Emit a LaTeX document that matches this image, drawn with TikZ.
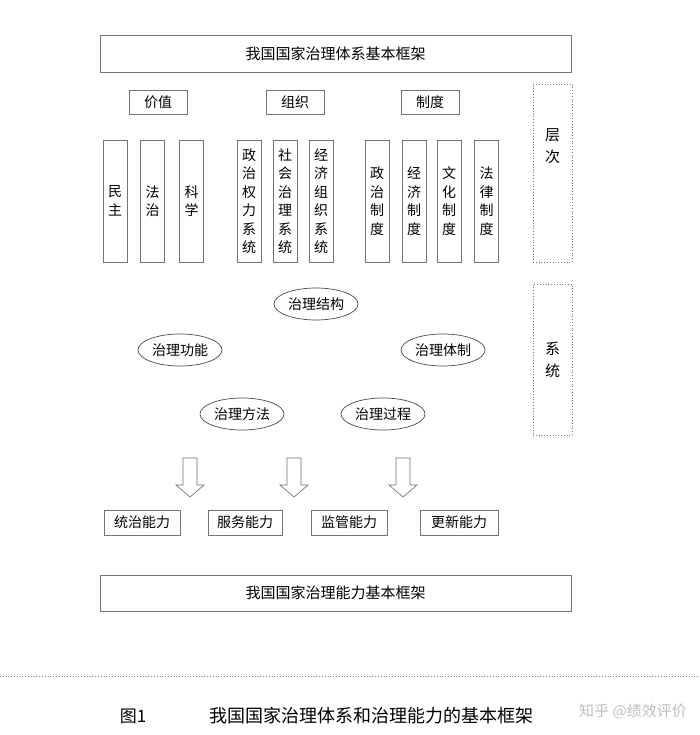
\documentclass[tikz,border=0pt]{standalone}
\usepackage{fontspec}
\setmainfont{Noto Sans CJK SC}
\usetikzlibrary{shapes.geometric}
\begin{document}
\begin{tikzpicture}[x=1pt,y=-1pt,
  bx/.style={draw=black!55,line width=0.7pt,inner sep=0pt,font=\fontsize{14}{16}\selectfont},
  vb/.style={bx,minimum width=24pt,minimum height=122pt,align=center,font=\fontsize{14}{18.5}\selectfont},
  dotbox/.style={draw=black!55,dotted,line width=0.8pt,minimum width=39pt,align=center,font=\fontsize{15}{22}\selectfont},
  el/.style={draw=black!70,ellipse,line width=0.7pt,minimum width=84pt,minimum height=32pt,inner sep=0pt,font=\fontsize{14}{16}\selectfont},
  harrow/.style={draw=black!55,line width=0.7pt,fill=white}]
\useasboundingbox (0,0) rectangle (700,735);
\node[bx,minimum width=471pt,minimum height=37pt,font=\fontsize{15}{16}\selectfont] (top) at (335.5,53.5) {我国国家治理体系基本框架};
\node[bx,minimum width=58pt,minimum height=24pt] (c1) at (158,102) {价值};
\node[bx,minimum width=58pt,minimum height=24pt] (c2) at (295,102) {组织};
\node[bx,minimum width=58pt,minimum height=24pt] (c3) at (430,102) {制度};
\foreach \x/\t/\n in {115/民\\主/v1,152.5/法\\治/v2,191.5/科\\学/v3,249/政\\治\\权\\力\\系\\统/v4,285/社\\会\\治\\理\\系\\统/v5,321/经\\济\\组\\织\\系\\统/v6,377/政\\治\\制\\度/v7,414/经\\济\\制\\度/v8,449/文\\化\\制\\度/v9,486.5/法\\律\\制\\度/v10}
  \node[vb] (\n) at (\x,201) {\t};
\node[dotbox,minimum height=178pt] (lc) at (552.5,173) {};
\node at (552.5,146) [font=\fontsize{15}{22}\selectfont,align=center] (lct) {层\\次};
\node[dotbox,minimum height=151pt] (xt) at (552.5,359.5) {系\\统};
\node[el] (e1) at (316,304) {治理结构};
\node[el] (e2) at (180,350) {治理功能};
\node[el] (e3) at (443,350) {治理体制};
\node[el] (e4) at (242,414) {治理方法};
\node[el] (e5) at (383,414) {治理过程};
\foreach \x/\n in {190/a1,294/a2,403/a3}{
  \coordinate (\n) at (\x,458);
  \draw[harrow] (\x-7,458) -- (\x-7,485) -- (\x-14,485) -- (\x,497) -- (\x+14,485) -- (\x+7,485) -- (\x+7,458) -- cycle;
}
\node[bx,minimum width=76pt,minimum height=25pt] (k1) at (142,522.5) {统治能力};
\node[bx,minimum width=74pt,minimum height=25pt] (k2) at (245,522.5) {服务能力};
\node[bx,minimum width=76pt,minimum height=25pt] (k3) at (349,522.5) {监管能力};
\node[bx,minimum width=78pt,minimum height=25pt] (k4) at (459,522.5) {更新能力};
\node[bx,minimum width=471pt,minimum height=36pt,font=\fontsize{15}{16}\selectfont] (bot) at (335.5,593) {我国国家治理能力基本框架};
\coordinate (d1) at (0,676); \coordinate (d2) at (700,676);
\draw[black!50,dotted,line width=0.8pt] (d1) -- (d2);
\node[font=\fontsize{17}{18}\selectfont] (fig) at (133,716) {图1};
\node[font=\fontsize{18}{20}\selectfont] (cap) at (371,716) {我国国家治理体系和治理能力的基本框架};
\node[font=\fontsize{15}{16}\selectfont,text=black!25] (wm) at (633,711) {知乎 @绩效评价};
\end{tikzpicture}
\end{document}
